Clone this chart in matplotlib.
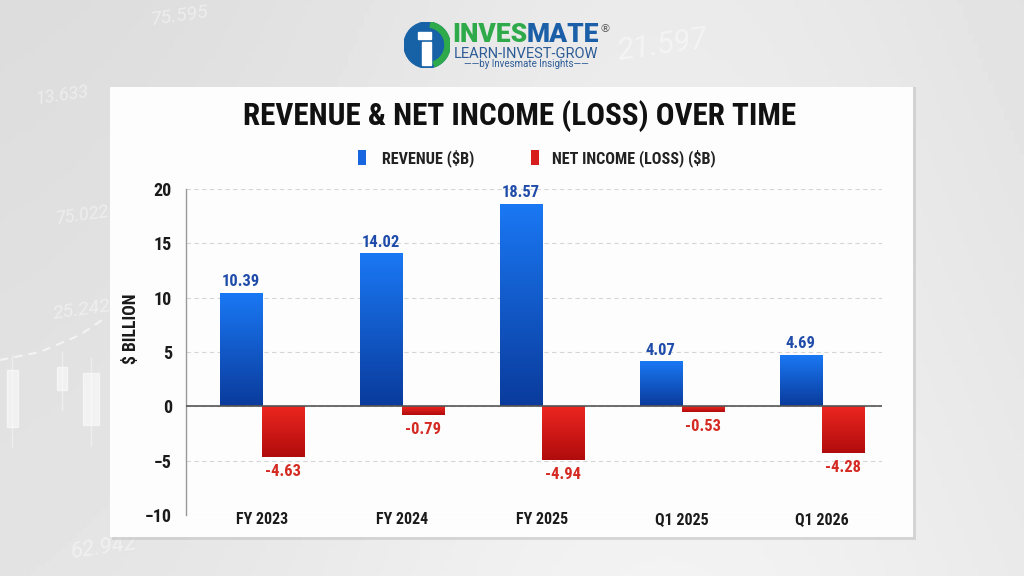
import matplotlib
matplotlib.use("Agg")
import matplotlib.pyplot as plt
import numpy as np
from matplotlib import font_manager
from matplotlib.colors import LinearSegmentedColormap
from matplotlib.font_manager import FontProperties
from matplotlib.patches import Rectangle, Circle, Wedge

categories = ["FY 2023", "FY 2024", "FY 2025", "Q1 2025", "Q1 2026"]
revenue = [10.39, 14.02, 18.57, 4.07, 4.69]
net_income = [-4.63, -0.79, -4.94, -0.53, -4.28]
y_ticks = [-10, -5, 0, 5, 10, 15, 20]
y_tick_labels = ["\u221210", "\u22125", "0", "5", "10", "15", "20"]

# faint ticker numbers printed on the backdrop
bg_numbers = ["75.595", "13.633", "75.022", "25.242", "62.942", "21.597"]

W, H = 1024, 576


def fx(x):
    return x / W


def fy(y):
    return 1 - y / H


# prefer a narrow bold face (Arial Narrow-like), then any condensed bold, then Roboto
files = [f.fname for f in font_manager.fontManager.ttflist]
cond_path = None
for key in ("liberationsansnarrow-bold.", "robotocondensed-bold", "condensed-bold", "narrow-bold"):
    hits = [p for p in files if key in p.lower().replace(" ", "")]
    if hits:
        cond_path = hits[0]
        break
narrow = cond_path is not None and "narrow" in cond_path.lower()


def bold(size):
    if cond_path:
        return FontProperties(fname=cond_path, size=size)
    return FontProperties(family="Roboto", weight="bold", size=size)


# size tweak: DejaVu condensed runs wider than Arial Narrow
k = 1.0 if narrow else 0.82

fig = plt.figure(figsize=(W / 100, H / 100), dpi=100)

# background
bg = fig.add_axes([0, 0, 1, 1], zorder=-10)
gx = np.linspace(0, 1, 200)
gy = np.linspace(0, 1, 120)
X, Y = np.meshgrid(gx, gy)
shade = 0.86 + 0.06 * np.exp(-((X - 0.65) ** 2) / 0.15) + 0.03 * Y
bg.imshow(shade, cmap="gray", vmin=0, vmax=1, aspect="auto", extent=(0, W, 0, H), origin="lower")
bg.set_xlim(0, W)
bg.set_ylim(H, 0)
bg.set_axis_off()

# decorative stock-chart hints on the backdrop
for s, (bx, by, fs) in zip(bg_numbers, [(150, 16, 14), (35, 95, 13), (55, 215, 13),
                                        (52, 310, 14), (70, 548, 16), (615, 45, 22)]):
    bg.text(bx, by, s, color="white", alpha=0.45, fontsize=fs, style="italic", rotation=8,
            ha="left", va="center", family="Roboto")
for cx, top, bot, cw in [(12, 370, 427, 11), (62, 367, 390, 10), (91, 373, 425, 16)]:
    bg.add_patch(Rectangle((cx - cw / 2, top), cw, bot - top, color="white", alpha=0.55))
    bg.plot([cx, cx], [top - 15, bot + 20], color="white", alpha=0.4, lw=1)
bg.plot([0, 40, 80, 105], [360, 352, 335, 318], color="white", alpha=0.6, lw=1.5, ls=(0, (4, 3)))

# white panel with soft shadow
fig.patches.append(Rectangle((fx(112), fy(540)), fx(804), 453 / H, transform=fig.transFigure,
                             facecolor="#c4c4c4", edgecolor="none", alpha=0.6, zorder=-5))
fig.patches.append(Rectangle((fx(110), fy(537)), fx(803), 450 / H, transform=fig.transFigure,
                             facecolor="#fdfdfd", edgecolor="none", zorder=-4))

# chart
ax_top, ax_bot = 189, 515
ax = fig.add_axes([fx(186), fy(ax_bot), fx(882 - 186), (ax_bot - ax_top) / H])
ax.set_facecolor("none")

x = np.arange(len(categories))
w = 0.3
rev_bars = ax.bar(x - w / 2, revenue, w, zorder=3)
inc_bars = ax.bar(x + w / 2, net_income, w, zorder=3)


def gradient_bars(bars, top, bottom):
    cmap = LinearSegmentedColormap.from_list("g", [bottom, top])
    grad = np.linspace(0, 1, 256).reshape(-1, 1)
    for b in bars:
        x0, y0 = b.get_x(), b.get_y()
        h = b.get_height()
        lo, hi = min(y0, y0 + h), max(y0, y0 + h)
        ax.imshow(grad, cmap=cmap, origin="lower", aspect="auto",
                  extent=(x0, x0 + b.get_width(), lo, hi), zorder=3, interpolation="bicubic")
        b.set_visible(False)


gradient_bars(rev_bars, "#1a78f4", "#0a3b9c")
gradient_bars(inc_bars, "#ec2620", "#b00c0c")

for xi, v in zip(x, revenue):
    ax.annotate(f"{v:.2f}", (xi - w / 2, v), xytext=(0, 3), textcoords="offset points",
                ha="center", va="bottom", color="#1f4caa", fontproperties=bold(14.5 * k), zorder=5)
for xi, v in zip(x, net_income):
    ax.annotate(f"{v:.2f}", (xi + w / 2, v), xytext=(0, -5), textcoords="offset points",
                ha="center", va="top", color="#d42a22", fontproperties=bold(14.5 * k), zorder=5)

ax.set_xlim(-0.54, 4.43)
ax.set_ylim(-10, 20)
ax.set_yticks(y_ticks)
ax.set_yticklabels(y_tick_labels, fontproperties=bold(15.8 * k))
ax.set_xticks(x)
ax.set_xticklabels(categories, fontproperties=bold(14.1 * k))
ax.tick_params(axis="both", length=0, colors="#1a1a1a")
ax.tick_params(axis="y", pad=10)
ax.tick_params(axis="x", pad=-2)

ax.grid(axis="y", color="#d6d6d6", linestyle=(0, (4, 3)), linewidth=0.8, zorder=0)
ax.axhline(0, color="#555555", linewidth=1.2, zorder=4)
for s in ("top", "right", "bottom"):
    ax.spines[s].set_visible(False)
ax.spines["left"].set_color("#9a9a9a")
ax.spines["left"].set_linewidth(1)

ax.set_ylabel("$ BILLION", fontproperties=bold(15.5 * k), color="#1a1a1a")
ax.yaxis.set_label_coords(-0.066, 0.57)

# title and legend
fig.text(fx(520), fy(116), "REVENUE & NET INCOME (LOSS) OVER TIME", ha="center", va="center",
         fontproperties=bold(27.3 * k), color="#111111")

fig.patches.append(Rectangle((fx(358), fy(165)), fx(8), 15 / H, transform=fig.transFigure,
                             facecolor="#1766e0", edgecolor="none"))
fig.text(fx(382), fy(158), "REVENUE ($B)", ha="left", va="center", fontproperties=bold(14.2 * k),
         color="#222222")
fig.patches.append(Rectangle((fx(531), fy(165)), fx(8), 15 / H, transform=fig.transFigure,
                             facecolor="#d81d1d", edgecolor="none"))
fig.text(fx(552), fy(158), "NET INCOME (LOSS) ($B)", ha="left", va="center", fontproperties=bold(14.2 * k),
         color="#222222")

# logo
lax = fig.add_axes([fx(404), fy(68), fx(46), 46 / H])
lax.set_xlim(-1, 1)
lax.set_ylim(-1, 1)
lax.set_aspect("equal")
lax.set_axis_off()
lax.add_patch(Circle((0, 0), 1, color="#1762a6"))
lax.add_patch(Wedge((0, 0), 1, -70, 80, width=0.22, color="#2eaa4a"))
lax.add_patch(Rectangle((-0.2, -0.85), 0.38, 1.0, color="white"))
lax.add_patch(Rectangle((-0.4, 0.28), 0.58, 0.3, color="white"))

t1 = fig.text(fx(452), fy(35), "INVES", ha="left", va="center", fontsize=19, fontweight="black",
              family="Roboto", color="#2eaa4a")
fig.canvas.draw()
bb = t1.get_window_extent()
fig.text(bb.x1 / W, fy(35), "MATE", ha="left", va="center", fontsize=19, fontweight="black",
         family="Roboto", color="#1b5fa8")
fig.text(fx(605), fy(29), "\u00ae", ha="center", va="center", fontsize=8, family="DejaVu Sans",
         color="#555555")
fig.text(fx(526), fy(54), "LEARN-INVEST-GROW", ha="center", va="center", fontsize=10.5,
         family="Roboto", color="#2d5c96")
fig.text(fx(526), fy(64), "\u2014\u2014by Invesmate Insights\u2014\u2014", ha="center", va="center",
         fontsize=7, family="Roboto", color="#2d5c96")

fig.savefig("out.png", dpi=100)
